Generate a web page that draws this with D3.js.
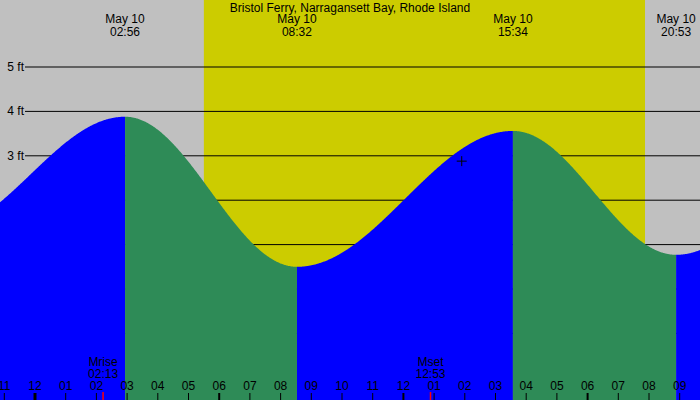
<!DOCTYPE html>
<html><head><meta charset="utf-8">
<script src="https://cdn.jsdelivr.net/npm/d3@7"></script>
<style>body{margin:0}svg{display:block;font-family:"Liberation Sans",Arial,sans-serif}</style>
</head><body><svg id="c" width="700" height="400"></svg>
<script>
const title = "Bristol Ferry, Narragansett Bay, Rhode Island";
// tide extremes: hours since midnight May 10, height ft
const tideTimes = [-3.2, 2.933, 8.533, 15.567, 20.883, 27];
const tideHeights = [1.3, 3.88, 0.5, 3.56, 0.77, 3.5];
const tideLabels = ["", "02:56", "08:32", "15:34", "20:53", ""];
const sunrise = 5.5, sunset = 19.87;
const moonEvents = [{name:"Mrise", t:2.217, label:"02:13"}, {name:"Mset", t:12.883, label:"12:53"}];
const nowMarker = {t:13.9, v:2.88};
const ftTicks = [5,4,3,2,1,0,-1];
const hourTicks = d3.range(-1, 22);

const W=700,H=400;
const x = d3.scaleLinear().domain([0,1]).range([35,35+30.7]);
const y = d3.scaleLinear().domain([0,1]).range([289,289-44.4]);
const svg = d3.select("#c");
svg.append("rect").attr("width",W).attr("height",H).attr("fill","#c0c0c0");
svg.append("rect").attr("x",x(sunrise)).attr("width",x(sunset)-x(sunrise)).attr("y",0).attr("height",H).attr("fill","#cccc00");
ftTicks.forEach(f=>{
  svg.append("line").attr("x1",25).attr("x2",W).attr("y1",y(f)).attr("y2",y(f)).attr("stroke","#000");
  svg.append("text").attr("x",24).attr("y",y(f)+4).attr("text-anchor","end").attr("font-size",12).text(f+" ft");
});
function h(t){
  let i=0; while(i<tideTimes.length-2 && t>tideTimes[i+1]) i++;
  const t0=tideTimes[i],t1=tideTimes[i+1],v0=tideHeights[i],v1=tideHeights[i+1];
  const f=(t-t0)/(t1-t0);
  return v0+(v1-v0)*(1-Math.cos(Math.PI*f))/2;
}
const tStart=x.invert(0), tEnd=x.invert(W);
for(let i=0;i<tideTimes.length-1;i++){
  const a=Math.max(tideTimes[i],tStart), b=Math.min(tideTimes[i+1],tEnd);
  if(a>=b) continue;
  const pts=d3.range(a,b,0.02).concat([b]);
  const area=d3.area().x(t=>x(t)).y0(H).y1(t=>y(h(t)));
  svg.append("path").attr("d",area(pts)).attr("fill", tideHeights[i+1]>tideHeights[i]?"#0000ff":"#2e8b57");
}
// current-time marker
const mx=x(nowMarker.t), my=y(nowMarker.v);
svg.append("path").attr("d",`M${mx-5},${my}H${mx+5}M${mx},${my-5}V${mx===0?0:my+5}`).attr("stroke","#000");
svg.append("text").attr("x",350).attr("y",12).attr("text-anchor","middle").attr("font-size",12).text(title);
tideTimes.forEach((t,i)=>{
  if(!tideLabels[i]) return;
  const g=svg.append("text").attr("text-anchor","middle").attr("font-size",12);
  let xx=Math.min(x(t),W-22);
  g.append("tspan").attr("x",xx).attr("y",23).text("May 10");
  g.append("tspan").attr("x",xx).attr("y",36).text(tideLabels[i]);
});
moonEvents.forEach(m=>{
  const g=svg.append("text").attr("text-anchor","middle").attr("font-size",12);
  g.append("tspan").attr("x",x(m.t)).attr("y",366).text(m.name);
  g.append("tspan").attr("x",x(m.t)).attr("y",378).text(m.label);
  svg.append("line").attr("x1",x(m.t)).attr("x2",x(m.t)).attr("y1",392).attr("y2",400).attr("stroke","#ff0000").attr("stroke-width",1.5);
});
hourTicks.forEach(t=>{
  const hh=((t%12)+12)%12||12;
  svg.append("text").attr("x",x(t)).attr("y",390).attr("text-anchor","middle").attr("font-size",12).text(String(hh).padStart(2,"0"));
  svg.append("line").attr("x1",x(t)).attr("x2",x(t)).attr("y1",393).attr("y2",400).attr("stroke","#000").attr("stroke-width",t===0?3:(t%6===0?2:1));
});
</script></body></html>
